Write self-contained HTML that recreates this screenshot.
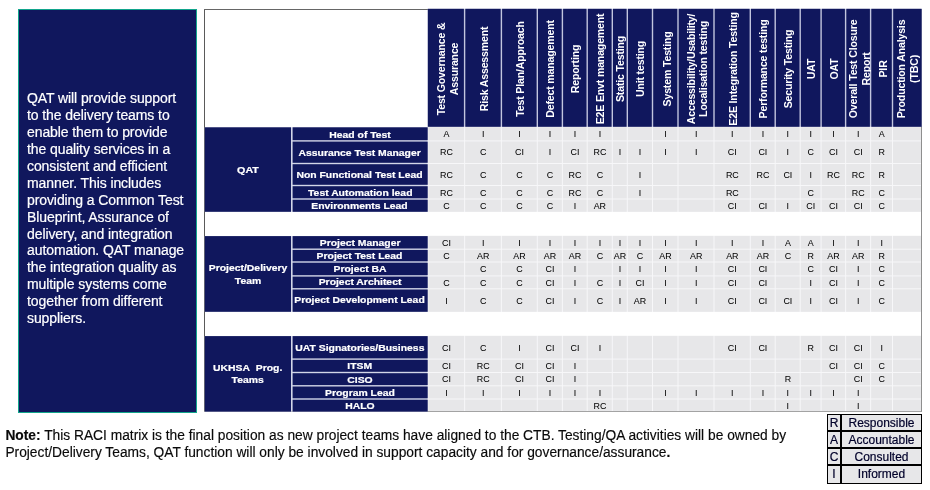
<!DOCTYPE html>
<html><head><meta charset="utf-8"><title>RACI matrix</title>
<style>
html,body{margin:0;padding:0;background:#fff;}
body{width:930px;height:490px;position:relative;overflow:hidden;font-family:"Liberation Sans",sans-serif;}
#bg{position:absolute;left:0;top:0;}
#left{position:absolute;left:18px;top:9px;width:177px;height:402px;background:#10175d;border:1px solid #12a58c;color:#fff;font-size:14px;line-height:16.94px;}
#left p{margin:0;position:absolute;left:8px;top:80px;width:168px;letter-spacing:-0.09px;-webkit-text-stroke:0.2px #fff}
.hc,.gc,.rc,.dc{position:absolute;box-sizing:border-box;overflow:hidden;}
.hc{color:#fff;font-weight:bold;font-size:10.6px;letter-spacing:-0.18px;line-height:12.5px;}
.rot{position:absolute;left:1px;transform-origin:0 0;transform:rotate(-90deg);display:flex;align-items:center;justify-content:center;text-align:center;white-space:nowrap;}
.gc,.rc{color:#fff;font-weight:bold;font-size:10px;letter-spacing:0;line-height:13px;display:flex;align-items:center;justify-content:center;text-align:center;white-space:nowrap;}
.gc{line-height:12.8px;font-size:9.8px}
.gc span{position:relative;top:0.6px;display:inline-block;transform:scaleX(1.06);-webkit-text-stroke:0.22px #fff}
.g0{font-size:9.8px}
.g0 span{transform:scaleX(1.09);top:1px}
.rc span{position:relative;top:-0.6px;display:inline-block;transform:scaleX(1.06);font-size:9.8px;-webkit-text-stroke:0.22px #fff}
.r0 span{top:0.4px}
.r2 span{top:0.1px}
.dc{color:#000;font-size:8.9px;display:flex;align-items:center;justify-content:center;white-space:nowrap;-webkit-text-stroke:0.04px #000;padding-left:0.3px;padding-top:0.5px}
#note{position:absolute;left:5.4px;top:427.8px;-webkit-text-stroke:0.15px #0a0a0a;width:800px;font-size:13.78px;line-height:16.8px;color:#0a0a0a;margin:0;white-space:nowrap;}
#legend{position:absolute;left:827px;top:414px;width:95px;height:70px;background:#000;}
#legend div{position:absolute;background:#e7e7e9;color:#00002a;font-size:12px;line-height:16.4px;-webkit-text-stroke:0.2px #00002a;text-align:center;white-space:nowrap;}
</style></head><body>
<svg id="bg" width="930" height="490" viewBox="0 0 930 490">
<rect x="204.00" y="9.00" width="1.00" height="403.00" fill="#5a5a5a"/>
<rect x="204.00" y="9.00" width="718.00" height="1.00" fill="#666"/>
<rect x="921.00" y="9.00" width="1.00" height="403.00" fill="#8e8e8e"/>
<rect x="204.00" y="411.00" width="718.00" height="1.00" fill="#999"/>
<rect x="427.80" y="8.80" width="493.80" height="118.10" fill="#c2c5de"/>
<rect x="427.80" y="8.80" width="36.10" height="118.10" fill="#10175d"/>
<rect x="465.30" y="8.80" width="35.40" height="118.10" fill="#10175d"/>
<rect x="502.10" y="8.80" width="34.50" height="118.10" fill="#10175d"/>
<rect x="538.00" y="8.80" width="23.70" height="118.10" fill="#10175d"/>
<rect x="563.10" y="8.80" width="23.40" height="118.10" fill="#10175d"/>
<rect x="587.90" y="8.80" width="23.70" height="118.10" fill="#10175d"/>
<rect x="613.00" y="8.80" width="13.60" height="118.10" fill="#10175d"/>
<rect x="628.00" y="8.80" width="23.80" height="118.10" fill="#10175d"/>
<rect x="653.20" y="8.80" width="24.10" height="118.10" fill="#10175d"/>
<rect x="678.70" y="8.80" width="34.60" height="118.10" fill="#10175d"/>
<rect x="714.70" y="8.80" width="34.90" height="118.10" fill="#10175d"/>
<rect x="751.00" y="8.80" width="23.50" height="118.10" fill="#10175d"/>
<rect x="775.90" y="8.80" width="23.60" height="118.10" fill="#10175d"/>
<rect x="800.90" y="8.80" width="19.50" height="118.10" fill="#10175d"/>
<rect x="821.80" y="8.80" width="23.10" height="118.10" fill="#10175d"/>
<rect x="846.30" y="8.80" width="23.60" height="118.10" fill="#10175d"/>
<rect x="871.30" y="8.80" width="20.50" height="118.10" fill="#10175d"/>
<rect x="893.20" y="8.80" width="28.40" height="118.10" fill="#10175d"/>
<rect x="204.80" y="127.30" width="222.90" height="84.50" fill="#d2d5e8"/>
<rect x="427.70" y="126.90" width="493.30" height="84.90" fill="#f7f7f9"/>
<rect x="204.80" y="127.30" width="86.20" height="84.50" fill="#10175d"/>
<rect x="292.60" y="127.30" width="135.10" height="12.90" fill="#10175d"/>
<rect x="428.30" y="127.10" width="35.80" height="13.30" fill="#e7e7e9"/>
<rect x="465.10" y="127.10" width="35.80" height="13.30" fill="#e7e7e9"/>
<rect x="501.90" y="127.10" width="34.90" height="13.30" fill="#e7e7e9"/>
<rect x="537.80" y="127.10" width="24.10" height="13.30" fill="#e7e7e9"/>
<rect x="562.90" y="127.10" width="23.80" height="13.30" fill="#e7e7e9"/>
<rect x="587.70" y="127.10" width="24.10" height="13.30" fill="#e7e7e9"/>
<rect x="612.80" y="127.10" width="14.00" height="13.30" fill="#e7e7e9"/>
<rect x="627.80" y="127.10" width="24.20" height="13.30" fill="#e7e7e9"/>
<rect x="653.00" y="127.10" width="24.50" height="13.30" fill="#e7e7e9"/>
<rect x="678.50" y="127.10" width="35.00" height="13.30" fill="#e7e7e9"/>
<rect x="714.50" y="127.10" width="35.30" height="13.30" fill="#e7e7e9"/>
<rect x="750.80" y="127.10" width="23.90" height="13.30" fill="#e7e7e9"/>
<rect x="775.70" y="127.10" width="24.00" height="13.30" fill="#e7e7e9"/>
<rect x="800.70" y="127.10" width="19.90" height="13.30" fill="#e7e7e9"/>
<rect x="821.60" y="127.10" width="23.50" height="13.30" fill="#e7e7e9"/>
<rect x="846.10" y="127.10" width="24.00" height="13.30" fill="#e7e7e9"/>
<rect x="871.10" y="127.10" width="20.90" height="13.30" fill="#e7e7e9"/>
<rect x="893.00" y="127.10" width="28.00" height="13.30" fill="#e7e7e9"/>
<rect x="292.60" y="141.60" width="135.10" height="21.20" fill="#10175d"/>
<rect x="428.30" y="141.40" width="35.80" height="21.60" fill="#e7e7e9"/>
<rect x="465.10" y="141.40" width="35.80" height="21.60" fill="#e7e7e9"/>
<rect x="501.90" y="141.40" width="34.90" height="21.60" fill="#e7e7e9"/>
<rect x="537.80" y="141.40" width="24.10" height="21.60" fill="#e7e7e9"/>
<rect x="562.90" y="141.40" width="23.80" height="21.60" fill="#e7e7e9"/>
<rect x="587.70" y="141.40" width="24.10" height="21.60" fill="#e7e7e9"/>
<rect x="612.80" y="141.40" width="14.00" height="21.60" fill="#e7e7e9"/>
<rect x="627.80" y="141.40" width="24.20" height="21.60" fill="#e7e7e9"/>
<rect x="653.00" y="141.40" width="24.50" height="21.60" fill="#e7e7e9"/>
<rect x="678.50" y="141.40" width="35.00" height="21.60" fill="#e7e7e9"/>
<rect x="714.50" y="141.40" width="35.30" height="21.60" fill="#e7e7e9"/>
<rect x="750.80" y="141.40" width="23.90" height="21.60" fill="#e7e7e9"/>
<rect x="775.70" y="141.40" width="24.00" height="21.60" fill="#e7e7e9"/>
<rect x="800.70" y="141.40" width="19.90" height="21.60" fill="#e7e7e9"/>
<rect x="821.60" y="141.40" width="23.50" height="21.60" fill="#e7e7e9"/>
<rect x="846.10" y="141.40" width="24.00" height="21.60" fill="#e7e7e9"/>
<rect x="871.10" y="141.40" width="20.90" height="21.60" fill="#e7e7e9"/>
<rect x="893.00" y="141.40" width="28.00" height="21.60" fill="#e7e7e9"/>
<rect x="292.60" y="164.20" width="135.10" height="20.60" fill="#10175d"/>
<rect x="428.30" y="164.00" width="35.80" height="21.00" fill="#e7e7e9"/>
<rect x="465.10" y="164.00" width="35.80" height="21.00" fill="#e7e7e9"/>
<rect x="501.90" y="164.00" width="34.90" height="21.00" fill="#e7e7e9"/>
<rect x="537.80" y="164.00" width="24.10" height="21.00" fill="#e7e7e9"/>
<rect x="562.90" y="164.00" width="23.80" height="21.00" fill="#e7e7e9"/>
<rect x="587.70" y="164.00" width="24.10" height="21.00" fill="#e7e7e9"/>
<rect x="612.80" y="164.00" width="14.00" height="21.00" fill="#e7e7e9"/>
<rect x="627.80" y="164.00" width="24.20" height="21.00" fill="#e7e7e9"/>
<rect x="653.00" y="164.00" width="24.50" height="21.00" fill="#e7e7e9"/>
<rect x="678.50" y="164.00" width="35.00" height="21.00" fill="#e7e7e9"/>
<rect x="714.50" y="164.00" width="35.30" height="21.00" fill="#e7e7e9"/>
<rect x="750.80" y="164.00" width="23.90" height="21.00" fill="#e7e7e9"/>
<rect x="775.70" y="164.00" width="24.00" height="21.00" fill="#e7e7e9"/>
<rect x="800.70" y="164.00" width="19.90" height="21.00" fill="#e7e7e9"/>
<rect x="821.60" y="164.00" width="23.50" height="21.00" fill="#e7e7e9"/>
<rect x="846.10" y="164.00" width="24.00" height="21.00" fill="#e7e7e9"/>
<rect x="871.10" y="164.00" width="20.90" height="21.00" fill="#e7e7e9"/>
<rect x="893.00" y="164.00" width="28.00" height="21.00" fill="#e7e7e9"/>
<rect x="292.60" y="186.20" width="135.10" height="12.10" fill="#10175d"/>
<rect x="428.30" y="186.00" width="35.80" height="12.50" fill="#e7e7e9"/>
<rect x="465.10" y="186.00" width="35.80" height="12.50" fill="#e7e7e9"/>
<rect x="501.90" y="186.00" width="34.90" height="12.50" fill="#e7e7e9"/>
<rect x="537.80" y="186.00" width="24.10" height="12.50" fill="#e7e7e9"/>
<rect x="562.90" y="186.00" width="23.80" height="12.50" fill="#e7e7e9"/>
<rect x="587.70" y="186.00" width="24.10" height="12.50" fill="#e7e7e9"/>
<rect x="612.80" y="186.00" width="14.00" height="12.50" fill="#e7e7e9"/>
<rect x="627.80" y="186.00" width="24.20" height="12.50" fill="#e7e7e9"/>
<rect x="653.00" y="186.00" width="24.50" height="12.50" fill="#e7e7e9"/>
<rect x="678.50" y="186.00" width="35.00" height="12.50" fill="#e7e7e9"/>
<rect x="714.50" y="186.00" width="35.30" height="12.50" fill="#e7e7e9"/>
<rect x="750.80" y="186.00" width="23.90" height="12.50" fill="#e7e7e9"/>
<rect x="775.70" y="186.00" width="24.00" height="12.50" fill="#e7e7e9"/>
<rect x="800.70" y="186.00" width="19.90" height="12.50" fill="#e7e7e9"/>
<rect x="821.60" y="186.00" width="23.50" height="12.50" fill="#e7e7e9"/>
<rect x="846.10" y="186.00" width="24.00" height="12.50" fill="#e7e7e9"/>
<rect x="871.10" y="186.00" width="20.90" height="12.50" fill="#e7e7e9"/>
<rect x="893.00" y="186.00" width="28.00" height="12.50" fill="#e7e7e9"/>
<rect x="292.60" y="199.70" width="135.10" height="12.10" fill="#10175d"/>
<rect x="428.30" y="199.50" width="35.80" height="12.30" fill="#e7e7e9"/>
<rect x="465.10" y="199.50" width="35.80" height="12.30" fill="#e7e7e9"/>
<rect x="501.90" y="199.50" width="34.90" height="12.30" fill="#e7e7e9"/>
<rect x="537.80" y="199.50" width="24.10" height="12.30" fill="#e7e7e9"/>
<rect x="562.90" y="199.50" width="23.80" height="12.30" fill="#e7e7e9"/>
<rect x="587.70" y="199.50" width="24.10" height="12.30" fill="#e7e7e9"/>
<rect x="612.80" y="199.50" width="14.00" height="12.30" fill="#e7e7e9"/>
<rect x="627.80" y="199.50" width="24.20" height="12.30" fill="#e7e7e9"/>
<rect x="653.00" y="199.50" width="24.50" height="12.30" fill="#e7e7e9"/>
<rect x="678.50" y="199.50" width="35.00" height="12.30" fill="#e7e7e9"/>
<rect x="714.50" y="199.50" width="35.30" height="12.30" fill="#e7e7e9"/>
<rect x="750.80" y="199.50" width="23.90" height="12.30" fill="#e7e7e9"/>
<rect x="775.70" y="199.50" width="24.00" height="12.30" fill="#e7e7e9"/>
<rect x="800.70" y="199.50" width="19.90" height="12.30" fill="#e7e7e9"/>
<rect x="821.60" y="199.50" width="23.50" height="12.30" fill="#e7e7e9"/>
<rect x="846.10" y="199.50" width="24.00" height="12.30" fill="#e7e7e9"/>
<rect x="871.10" y="199.50" width="20.90" height="12.30" fill="#e7e7e9"/>
<rect x="893.00" y="199.50" width="28.00" height="12.30" fill="#e7e7e9"/>
<rect x="204.80" y="236.10" width="222.90" height="75.70" fill="#d2d5e8"/>
<rect x="427.70" y="235.70" width="493.30" height="76.10" fill="#f7f7f9"/>
<rect x="204.80" y="236.10" width="86.20" height="75.70" fill="#10175d"/>
<rect x="292.60" y="236.10" width="135.10" height="12.40" fill="#10175d"/>
<rect x="428.30" y="235.90" width="35.80" height="12.80" fill="#e7e7e9"/>
<rect x="465.10" y="235.90" width="35.80" height="12.80" fill="#e7e7e9"/>
<rect x="501.90" y="235.90" width="34.90" height="12.80" fill="#e7e7e9"/>
<rect x="537.80" y="235.90" width="24.10" height="12.80" fill="#e7e7e9"/>
<rect x="562.90" y="235.90" width="23.80" height="12.80" fill="#e7e7e9"/>
<rect x="587.70" y="235.90" width="24.10" height="12.80" fill="#e7e7e9"/>
<rect x="612.80" y="235.90" width="14.00" height="12.80" fill="#e7e7e9"/>
<rect x="627.80" y="235.90" width="24.20" height="12.80" fill="#e7e7e9"/>
<rect x="653.00" y="235.90" width="24.50" height="12.80" fill="#e7e7e9"/>
<rect x="678.50" y="235.90" width="35.00" height="12.80" fill="#e7e7e9"/>
<rect x="714.50" y="235.90" width="35.30" height="12.80" fill="#e7e7e9"/>
<rect x="750.80" y="235.90" width="23.90" height="12.80" fill="#e7e7e9"/>
<rect x="775.70" y="235.90" width="24.00" height="12.80" fill="#e7e7e9"/>
<rect x="800.70" y="235.90" width="19.90" height="12.80" fill="#e7e7e9"/>
<rect x="821.60" y="235.90" width="23.50" height="12.80" fill="#e7e7e9"/>
<rect x="846.10" y="235.90" width="24.00" height="12.80" fill="#e7e7e9"/>
<rect x="871.10" y="235.90" width="20.90" height="12.80" fill="#e7e7e9"/>
<rect x="893.00" y="235.90" width="28.00" height="12.80" fill="#e7e7e9"/>
<rect x="292.60" y="249.90" width="135.10" height="11.40" fill="#10175d"/>
<rect x="428.30" y="249.70" width="35.80" height="11.80" fill="#e7e7e9"/>
<rect x="465.10" y="249.70" width="35.80" height="11.80" fill="#e7e7e9"/>
<rect x="501.90" y="249.70" width="34.90" height="11.80" fill="#e7e7e9"/>
<rect x="537.80" y="249.70" width="24.10" height="11.80" fill="#e7e7e9"/>
<rect x="562.90" y="249.70" width="23.80" height="11.80" fill="#e7e7e9"/>
<rect x="587.70" y="249.70" width="24.10" height="11.80" fill="#e7e7e9"/>
<rect x="612.80" y="249.70" width="14.00" height="11.80" fill="#e7e7e9"/>
<rect x="627.80" y="249.70" width="24.20" height="11.80" fill="#e7e7e9"/>
<rect x="653.00" y="249.70" width="24.50" height="11.80" fill="#e7e7e9"/>
<rect x="678.50" y="249.70" width="35.00" height="11.80" fill="#e7e7e9"/>
<rect x="714.50" y="249.70" width="35.30" height="11.80" fill="#e7e7e9"/>
<rect x="750.80" y="249.70" width="23.90" height="11.80" fill="#e7e7e9"/>
<rect x="775.70" y="249.70" width="24.00" height="11.80" fill="#e7e7e9"/>
<rect x="800.70" y="249.70" width="19.90" height="11.80" fill="#e7e7e9"/>
<rect x="821.60" y="249.70" width="23.50" height="11.80" fill="#e7e7e9"/>
<rect x="846.10" y="249.70" width="24.00" height="11.80" fill="#e7e7e9"/>
<rect x="871.10" y="249.70" width="20.90" height="11.80" fill="#e7e7e9"/>
<rect x="893.00" y="249.70" width="28.00" height="11.80" fill="#e7e7e9"/>
<rect x="292.60" y="262.70" width="135.10" height="12.50" fill="#10175d"/>
<rect x="428.30" y="262.50" width="35.80" height="12.90" fill="#e7e7e9"/>
<rect x="465.10" y="262.50" width="35.80" height="12.90" fill="#e7e7e9"/>
<rect x="501.90" y="262.50" width="34.90" height="12.90" fill="#e7e7e9"/>
<rect x="537.80" y="262.50" width="24.10" height="12.90" fill="#e7e7e9"/>
<rect x="562.90" y="262.50" width="23.80" height="12.90" fill="#e7e7e9"/>
<rect x="587.70" y="262.50" width="24.10" height="12.90" fill="#e7e7e9"/>
<rect x="612.80" y="262.50" width="14.00" height="12.90" fill="#e7e7e9"/>
<rect x="627.80" y="262.50" width="24.20" height="12.90" fill="#e7e7e9"/>
<rect x="653.00" y="262.50" width="24.50" height="12.90" fill="#e7e7e9"/>
<rect x="678.50" y="262.50" width="35.00" height="12.90" fill="#e7e7e9"/>
<rect x="714.50" y="262.50" width="35.30" height="12.90" fill="#e7e7e9"/>
<rect x="750.80" y="262.50" width="23.90" height="12.90" fill="#e7e7e9"/>
<rect x="775.70" y="262.50" width="24.00" height="12.90" fill="#e7e7e9"/>
<rect x="800.70" y="262.50" width="19.90" height="12.90" fill="#e7e7e9"/>
<rect x="821.60" y="262.50" width="23.50" height="12.90" fill="#e7e7e9"/>
<rect x="846.10" y="262.50" width="24.00" height="12.90" fill="#e7e7e9"/>
<rect x="871.10" y="262.50" width="20.90" height="12.90" fill="#e7e7e9"/>
<rect x="893.00" y="262.50" width="28.00" height="12.90" fill="#e7e7e9"/>
<rect x="292.60" y="276.60" width="135.10" height="11.50" fill="#10175d"/>
<rect x="428.30" y="276.40" width="35.80" height="11.90" fill="#e7e7e9"/>
<rect x="465.10" y="276.40" width="35.80" height="11.90" fill="#e7e7e9"/>
<rect x="501.90" y="276.40" width="34.90" height="11.90" fill="#e7e7e9"/>
<rect x="537.80" y="276.40" width="24.10" height="11.90" fill="#e7e7e9"/>
<rect x="562.90" y="276.40" width="23.80" height="11.90" fill="#e7e7e9"/>
<rect x="587.70" y="276.40" width="24.10" height="11.90" fill="#e7e7e9"/>
<rect x="612.80" y="276.40" width="14.00" height="11.90" fill="#e7e7e9"/>
<rect x="627.80" y="276.40" width="24.20" height="11.90" fill="#e7e7e9"/>
<rect x="653.00" y="276.40" width="24.50" height="11.90" fill="#e7e7e9"/>
<rect x="678.50" y="276.40" width="35.00" height="11.90" fill="#e7e7e9"/>
<rect x="714.50" y="276.40" width="35.30" height="11.90" fill="#e7e7e9"/>
<rect x="750.80" y="276.40" width="23.90" height="11.90" fill="#e7e7e9"/>
<rect x="775.70" y="276.40" width="24.00" height="11.90" fill="#e7e7e9"/>
<rect x="800.70" y="276.40" width="19.90" height="11.90" fill="#e7e7e9"/>
<rect x="821.60" y="276.40" width="23.50" height="11.90" fill="#e7e7e9"/>
<rect x="846.10" y="276.40" width="24.00" height="11.90" fill="#e7e7e9"/>
<rect x="871.10" y="276.40" width="20.90" height="11.90" fill="#e7e7e9"/>
<rect x="893.00" y="276.40" width="28.00" height="11.90" fill="#e7e7e9"/>
<rect x="292.60" y="289.50" width="135.10" height="22.30" fill="#10175d"/>
<rect x="428.30" y="289.30" width="35.80" height="22.50" fill="#e7e7e9"/>
<rect x="465.10" y="289.30" width="35.80" height="22.50" fill="#e7e7e9"/>
<rect x="501.90" y="289.30" width="34.90" height="22.50" fill="#e7e7e9"/>
<rect x="537.80" y="289.30" width="24.10" height="22.50" fill="#e7e7e9"/>
<rect x="562.90" y="289.30" width="23.80" height="22.50" fill="#e7e7e9"/>
<rect x="587.70" y="289.30" width="24.10" height="22.50" fill="#e7e7e9"/>
<rect x="612.80" y="289.30" width="14.00" height="22.50" fill="#e7e7e9"/>
<rect x="627.80" y="289.30" width="24.20" height="22.50" fill="#e7e7e9"/>
<rect x="653.00" y="289.30" width="24.50" height="22.50" fill="#e7e7e9"/>
<rect x="678.50" y="289.30" width="35.00" height="22.50" fill="#e7e7e9"/>
<rect x="714.50" y="289.30" width="35.30" height="22.50" fill="#e7e7e9"/>
<rect x="750.80" y="289.30" width="23.90" height="22.50" fill="#e7e7e9"/>
<rect x="775.70" y="289.30" width="24.00" height="22.50" fill="#e7e7e9"/>
<rect x="800.70" y="289.30" width="19.90" height="22.50" fill="#e7e7e9"/>
<rect x="821.60" y="289.30" width="23.50" height="22.50" fill="#e7e7e9"/>
<rect x="846.10" y="289.30" width="24.00" height="22.50" fill="#e7e7e9"/>
<rect x="871.10" y="289.30" width="20.90" height="22.50" fill="#e7e7e9"/>
<rect x="893.00" y="289.30" width="28.00" height="22.50" fill="#e7e7e9"/>
<rect x="204.80" y="336.10" width="222.90" height="75.50" fill="#d2d5e8"/>
<rect x="427.70" y="335.70" width="493.30" height="75.40" fill="#f7f7f9"/>
<rect x="204.80" y="336.10" width="86.20" height="75.50" fill="#10175d"/>
<rect x="292.60" y="336.10" width="135.10" height="22.30" fill="#10175d"/>
<rect x="428.30" y="335.90" width="35.80" height="22.70" fill="#e7e7e9"/>
<rect x="465.10" y="335.90" width="35.80" height="22.70" fill="#e7e7e9"/>
<rect x="501.90" y="335.90" width="34.90" height="22.70" fill="#e7e7e9"/>
<rect x="537.80" y="335.90" width="24.10" height="22.70" fill="#e7e7e9"/>
<rect x="562.90" y="335.90" width="23.80" height="22.70" fill="#e7e7e9"/>
<rect x="587.70" y="335.90" width="24.10" height="22.70" fill="#e7e7e9"/>
<rect x="612.80" y="335.90" width="14.00" height="22.70" fill="#e7e7e9"/>
<rect x="627.80" y="335.90" width="24.20" height="22.70" fill="#e7e7e9"/>
<rect x="653.00" y="335.90" width="24.50" height="22.70" fill="#e7e7e9"/>
<rect x="678.50" y="335.90" width="35.00" height="22.70" fill="#e7e7e9"/>
<rect x="714.50" y="335.90" width="35.30" height="22.70" fill="#e7e7e9"/>
<rect x="750.80" y="335.90" width="23.90" height="22.70" fill="#e7e7e9"/>
<rect x="775.70" y="335.90" width="24.00" height="22.70" fill="#e7e7e9"/>
<rect x="800.70" y="335.90" width="19.90" height="22.70" fill="#e7e7e9"/>
<rect x="821.60" y="335.90" width="23.50" height="22.70" fill="#e7e7e9"/>
<rect x="846.10" y="335.90" width="24.00" height="22.70" fill="#e7e7e9"/>
<rect x="871.10" y="335.90" width="20.90" height="22.70" fill="#e7e7e9"/>
<rect x="893.00" y="335.90" width="28.00" height="22.70" fill="#e7e7e9"/>
<rect x="292.60" y="359.80" width="135.10" height="12.00" fill="#10175d"/>
<rect x="428.30" y="359.60" width="35.80" height="12.40" fill="#e7e7e9"/>
<rect x="465.10" y="359.60" width="35.80" height="12.40" fill="#e7e7e9"/>
<rect x="501.90" y="359.60" width="34.90" height="12.40" fill="#e7e7e9"/>
<rect x="537.80" y="359.60" width="24.10" height="12.40" fill="#e7e7e9"/>
<rect x="562.90" y="359.60" width="23.80" height="12.40" fill="#e7e7e9"/>
<rect x="587.70" y="359.60" width="24.10" height="12.40" fill="#e7e7e9"/>
<rect x="612.80" y="359.60" width="14.00" height="12.40" fill="#e7e7e9"/>
<rect x="627.80" y="359.60" width="24.20" height="12.40" fill="#e7e7e9"/>
<rect x="653.00" y="359.60" width="24.50" height="12.40" fill="#e7e7e9"/>
<rect x="678.50" y="359.60" width="35.00" height="12.40" fill="#e7e7e9"/>
<rect x="714.50" y="359.60" width="35.30" height="12.40" fill="#e7e7e9"/>
<rect x="750.80" y="359.60" width="23.90" height="12.40" fill="#e7e7e9"/>
<rect x="775.70" y="359.60" width="24.00" height="12.40" fill="#e7e7e9"/>
<rect x="800.70" y="359.60" width="19.90" height="12.40" fill="#e7e7e9"/>
<rect x="821.60" y="359.60" width="23.50" height="12.40" fill="#e7e7e9"/>
<rect x="846.10" y="359.60" width="24.00" height="12.40" fill="#e7e7e9"/>
<rect x="871.10" y="359.60" width="20.90" height="12.40" fill="#e7e7e9"/>
<rect x="893.00" y="359.60" width="28.00" height="12.40" fill="#e7e7e9"/>
<rect x="292.60" y="373.20" width="135.10" height="11.90" fill="#10175d"/>
<rect x="428.30" y="373.00" width="35.80" height="12.30" fill="#e7e7e9"/>
<rect x="465.10" y="373.00" width="35.80" height="12.30" fill="#e7e7e9"/>
<rect x="501.90" y="373.00" width="34.90" height="12.30" fill="#e7e7e9"/>
<rect x="537.80" y="373.00" width="24.10" height="12.30" fill="#e7e7e9"/>
<rect x="562.90" y="373.00" width="23.80" height="12.30" fill="#e7e7e9"/>
<rect x="587.70" y="373.00" width="24.10" height="12.30" fill="#e7e7e9"/>
<rect x="612.80" y="373.00" width="14.00" height="12.30" fill="#e7e7e9"/>
<rect x="627.80" y="373.00" width="24.20" height="12.30" fill="#e7e7e9"/>
<rect x="653.00" y="373.00" width="24.50" height="12.30" fill="#e7e7e9"/>
<rect x="678.50" y="373.00" width="35.00" height="12.30" fill="#e7e7e9"/>
<rect x="714.50" y="373.00" width="35.30" height="12.30" fill="#e7e7e9"/>
<rect x="750.80" y="373.00" width="23.90" height="12.30" fill="#e7e7e9"/>
<rect x="775.70" y="373.00" width="24.00" height="12.30" fill="#e7e7e9"/>
<rect x="800.70" y="373.00" width="19.90" height="12.30" fill="#e7e7e9"/>
<rect x="821.60" y="373.00" width="23.50" height="12.30" fill="#e7e7e9"/>
<rect x="846.10" y="373.00" width="24.00" height="12.30" fill="#e7e7e9"/>
<rect x="871.10" y="373.00" width="20.90" height="12.30" fill="#e7e7e9"/>
<rect x="893.00" y="373.00" width="28.00" height="12.30" fill="#e7e7e9"/>
<rect x="292.60" y="386.50" width="135.10" height="11.80" fill="#10175d"/>
<rect x="428.30" y="386.30" width="35.80" height="12.20" fill="#e7e7e9"/>
<rect x="465.10" y="386.30" width="35.80" height="12.20" fill="#e7e7e9"/>
<rect x="501.90" y="386.30" width="34.90" height="12.20" fill="#e7e7e9"/>
<rect x="537.80" y="386.30" width="24.10" height="12.20" fill="#e7e7e9"/>
<rect x="562.90" y="386.30" width="23.80" height="12.20" fill="#e7e7e9"/>
<rect x="587.70" y="386.30" width="24.10" height="12.20" fill="#e7e7e9"/>
<rect x="612.80" y="386.30" width="14.00" height="12.20" fill="#e7e7e9"/>
<rect x="627.80" y="386.30" width="24.20" height="12.20" fill="#e7e7e9"/>
<rect x="653.00" y="386.30" width="24.50" height="12.20" fill="#e7e7e9"/>
<rect x="678.50" y="386.30" width="35.00" height="12.20" fill="#e7e7e9"/>
<rect x="714.50" y="386.30" width="35.30" height="12.20" fill="#e7e7e9"/>
<rect x="750.80" y="386.30" width="23.90" height="12.20" fill="#e7e7e9"/>
<rect x="775.70" y="386.30" width="24.00" height="12.20" fill="#e7e7e9"/>
<rect x="800.70" y="386.30" width="19.90" height="12.20" fill="#e7e7e9"/>
<rect x="821.60" y="386.30" width="23.50" height="12.20" fill="#e7e7e9"/>
<rect x="846.10" y="386.30" width="24.00" height="12.20" fill="#e7e7e9"/>
<rect x="871.10" y="386.30" width="20.90" height="12.20" fill="#e7e7e9"/>
<rect x="893.00" y="386.30" width="28.00" height="12.20" fill="#e7e7e9"/>
<rect x="292.60" y="399.70" width="135.10" height="11.90" fill="#10175d"/>
<rect x="428.30" y="399.50" width="35.80" height="11.50" fill="#e7e7e9"/>
<rect x="465.10" y="399.50" width="35.80" height="11.50" fill="#e7e7e9"/>
<rect x="501.90" y="399.50" width="34.90" height="11.50" fill="#e7e7e9"/>
<rect x="537.80" y="399.50" width="24.10" height="11.50" fill="#e7e7e9"/>
<rect x="562.90" y="399.50" width="23.80" height="11.50" fill="#e7e7e9"/>
<rect x="587.70" y="399.50" width="24.10" height="11.50" fill="#e7e7e9"/>
<rect x="612.80" y="399.50" width="14.00" height="11.50" fill="#e7e7e9"/>
<rect x="627.80" y="399.50" width="24.20" height="11.50" fill="#e7e7e9"/>
<rect x="653.00" y="399.50" width="24.50" height="11.50" fill="#e7e7e9"/>
<rect x="678.50" y="399.50" width="35.00" height="11.50" fill="#e7e7e9"/>
<rect x="714.50" y="399.50" width="35.30" height="11.50" fill="#e7e7e9"/>
<rect x="750.80" y="399.50" width="23.90" height="11.50" fill="#e7e7e9"/>
<rect x="775.70" y="399.50" width="24.00" height="11.50" fill="#e7e7e9"/>
<rect x="800.70" y="399.50" width="19.90" height="11.50" fill="#e7e7e9"/>
<rect x="821.60" y="399.50" width="23.50" height="11.50" fill="#e7e7e9"/>
<rect x="846.10" y="399.50" width="24.00" height="11.50" fill="#e7e7e9"/>
<rect x="871.10" y="399.50" width="20.90" height="11.50" fill="#e7e7e9"/>
<rect x="893.00" y="399.50" width="28.00" height="11.50" fill="#e7e7e9"/>
</svg>
<div id="left"><p>QAT will provide support<br>to the delivery teams to<br>enable them to provide<br>the quality services in a<br>consistent and efficient<br>manner. This includes<br>providing a Common Test<br>Blueprint, Assurance of<br>delivery, and integration<br>automation. QAT manage<br>the integration quality as<br>multiple systems come<br>together from different<br>suppliers.</p></div>
<div class="hc" style="left:428.00px;top:8.8px;width:36.60px;height:118.10px"><div class="rot" style="width:118.10px;height:36.60px;top:119.10px;line-height:13.7px;left:1.6px;"><span>Test Governance &amp;<br>Assurance</span></div></div>
<div class="hc" style="left:464.60px;top:8.8px;width:36.80px;height:118.10px"><div class="rot" style="width:118.10px;height:36.80px;top:119.10px;"><span>Risk Assessment</span></div></div>
<div class="hc" style="left:501.40px;top:8.8px;width:35.90px;height:118.10px"><div class="rot" style="width:118.10px;height:35.90px;top:119.10px;"><span>Test Plan/Approach</span></div></div>
<div class="hc" style="left:537.30px;top:8.8px;width:25.10px;height:118.10px"><div class="rot" style="width:118.10px;height:25.10px;top:119.10px;"><span>Defect management</span></div></div>
<div class="hc" style="left:562.40px;top:8.8px;width:24.80px;height:118.10px"><div class="rot" style="width:118.10px;height:24.80px;top:119.10px;"><span>Reporting</span></div></div>
<div class="hc" style="left:587.20px;top:8.8px;width:25.10px;height:118.10px"><div class="rot" style="width:118.10px;height:25.10px;top:119.10px;"><span>E2E Envt management</span></div></div>
<div class="hc" style="left:612.30px;top:8.8px;width:15.00px;height:118.10px"><div class="rot" style="width:118.10px;height:15.00px;top:119.10px;"><span>Static Testing</span></div></div>
<div class="hc" style="left:627.30px;top:8.8px;width:25.20px;height:118.10px"><div class="rot" style="width:118.10px;height:25.20px;top:119.10px;"><span>Unit testing</span></div></div>
<div class="hc" style="left:652.50px;top:8.8px;width:25.50px;height:118.10px"><div class="rot" style="width:118.10px;height:25.50px;top:119.10px;"><span>System Testing</span></div></div>
<div class="hc" style="left:678.00px;top:8.8px;width:36.00px;height:118.10px"><div class="rot" style="width:118.10px;height:36.00px;top:119.10px;"><span>Accessibility/Usability/<br>Localisation testing</span></div></div>
<div class="hc" style="left:714.00px;top:8.8px;width:36.30px;height:118.10px"><div class="rot" style="width:118.10px;height:36.30px;top:119.10px;"><span>E2E Integration Testing</span></div></div>
<div class="hc" style="left:750.30px;top:8.8px;width:24.90px;height:118.10px"><div class="rot" style="width:118.10px;height:24.90px;top:119.10px;"><span>Performance testing</span></div></div>
<div class="hc" style="left:775.20px;top:8.8px;width:25.00px;height:118.10px"><div class="rot" style="width:118.10px;height:25.00px;top:119.10px;"><span>Security Testing</span></div></div>
<div class="hc" style="left:800.20px;top:8.8px;width:20.90px;height:118.10px"><div class="rot" style="width:118.10px;height:20.90px;top:119.10px;"><span>UAT</span></div></div>
<div class="hc" style="left:821.10px;top:8.8px;width:24.50px;height:118.10px"><div class="rot" style="width:118.10px;height:24.50px;top:119.10px;"><span>OAT</span></div></div>
<div class="hc" style="left:845.60px;top:8.8px;width:25.00px;height:118.10px"><div class="rot" style="width:118.10px;height:25.00px;top:119.10px;"><span>Overall Test Closure<br>Report</span></div></div>
<div class="hc" style="left:870.60px;top:8.8px;width:21.90px;height:118.10px"><div class="rot" style="width:118.10px;height:21.90px;top:119.10px;"><span>PIR</span></div></div>
<div class="hc" style="left:892.50px;top:8.8px;width:29.10px;height:118.10px"><div class="rot" style="width:118.10px;height:29.10px;top:119.10px;left:0.4px;"><span>Production Analysis<br>(TBC)</span></div></div>
<div class="gc g0" style="left:204.00px;top:127.30px;width:87.80px;height:84.50px;"><span>QAT</span></div>
<div class="rc r0" style="left:291.80px;top:127.30px;width:136.20px;height:13.60px;"><span>Head of Test</span></div>
<div class="dc" style="left:428.00px;top:127.30px;width:36.60px;height:13.60px;"><span>A</span></div>
<div class="dc" style="left:464.60px;top:127.30px;width:36.80px;height:13.60px;"><span>I</span></div>
<div class="dc" style="left:501.40px;top:127.30px;width:35.90px;height:13.60px;"><span>I</span></div>
<div class="dc" style="left:537.30px;top:127.30px;width:25.10px;height:13.60px;"><span>I</span></div>
<div class="dc" style="left:562.40px;top:127.30px;width:24.80px;height:13.60px;"><span>I</span></div>
<div class="dc" style="left:587.20px;top:127.30px;width:25.10px;height:13.60px;"><span>I</span></div>
<div class="dc" style="left:652.50px;top:127.30px;width:25.50px;height:13.60px;"><span>I</span></div>
<div class="dc" style="left:678.00px;top:127.30px;width:36.00px;height:13.60px;"><span>I</span></div>
<div class="dc" style="left:714.00px;top:127.30px;width:36.30px;height:13.60px;"><span>I</span></div>
<div class="dc" style="left:750.30px;top:127.30px;width:24.90px;height:13.60px;"><span>I</span></div>
<div class="dc" style="left:775.20px;top:127.30px;width:25.00px;height:13.60px;"><span>I</span></div>
<div class="dc" style="left:800.20px;top:127.30px;width:20.90px;height:13.60px;"><span>I</span></div>
<div class="dc" style="left:821.10px;top:127.30px;width:24.50px;height:13.60px;"><span>I</span></div>
<div class="dc" style="left:845.60px;top:127.30px;width:25.00px;height:13.60px;"><span>I</span></div>
<div class="dc" style="left:870.60px;top:127.30px;width:21.90px;height:13.60px;"><span>A</span></div>
<div class="rc r0" style="left:291.80px;top:140.90px;width:136.20px;height:22.60px;"><span>Assurance Test Manager</span></div>
<div class="dc" style="left:428.00px;top:140.90px;width:36.60px;height:22.60px;"><span>RC</span></div>
<div class="dc" style="left:464.60px;top:140.90px;width:36.80px;height:22.60px;"><span>C</span></div>
<div class="dc" style="left:501.40px;top:140.90px;width:35.90px;height:22.60px;"><span>CI</span></div>
<div class="dc" style="left:537.30px;top:140.90px;width:25.10px;height:22.60px;"><span>I</span></div>
<div class="dc" style="left:562.40px;top:140.90px;width:24.80px;height:22.60px;"><span>CI</span></div>
<div class="dc" style="left:587.20px;top:140.90px;width:25.10px;height:22.60px;"><span>RC</span></div>
<div class="dc" style="left:612.30px;top:140.90px;width:15.00px;height:22.60px;"><span>I</span></div>
<div class="dc" style="left:627.30px;top:140.90px;width:25.20px;height:22.60px;"><span>I</span></div>
<div class="dc" style="left:652.50px;top:140.90px;width:25.50px;height:22.60px;"><span>I</span></div>
<div class="dc" style="left:678.00px;top:140.90px;width:36.00px;height:22.60px;"><span>I</span></div>
<div class="dc" style="left:714.00px;top:140.90px;width:36.30px;height:22.60px;"><span>CI</span></div>
<div class="dc" style="left:750.30px;top:140.90px;width:24.90px;height:22.60px;"><span>CI</span></div>
<div class="dc" style="left:775.20px;top:140.90px;width:25.00px;height:22.60px;"><span>I</span></div>
<div class="dc" style="left:800.20px;top:140.90px;width:20.90px;height:22.60px;"><span>C</span></div>
<div class="dc" style="left:821.10px;top:140.90px;width:24.50px;height:22.60px;"><span>CI</span></div>
<div class="dc" style="left:845.60px;top:140.90px;width:25.00px;height:22.60px;"><span>CI</span></div>
<div class="dc" style="left:870.60px;top:140.90px;width:21.90px;height:22.60px;"><span>R</span></div>
<div class="rc r0" style="left:291.80px;top:163.50px;width:136.20px;height:22.00px;"><span>Non Functional Test Lead</span></div>
<div class="dc" style="left:428.00px;top:163.50px;width:36.60px;height:22.00px;"><span>RC</span></div>
<div class="dc" style="left:464.60px;top:163.50px;width:36.80px;height:22.00px;"><span>C</span></div>
<div class="dc" style="left:501.40px;top:163.50px;width:35.90px;height:22.00px;"><span>C</span></div>
<div class="dc" style="left:537.30px;top:163.50px;width:25.10px;height:22.00px;"><span>C</span></div>
<div class="dc" style="left:562.40px;top:163.50px;width:24.80px;height:22.00px;"><span>RC</span></div>
<div class="dc" style="left:587.20px;top:163.50px;width:25.10px;height:22.00px;"><span>C</span></div>
<div class="dc" style="left:627.30px;top:163.50px;width:25.20px;height:22.00px;"><span>I</span></div>
<div class="dc" style="left:714.00px;top:163.50px;width:36.30px;height:22.00px;"><span>RC</span></div>
<div class="dc" style="left:750.30px;top:163.50px;width:24.90px;height:22.00px;"><span>RC</span></div>
<div class="dc" style="left:775.20px;top:163.50px;width:25.00px;height:22.00px;"><span>CI</span></div>
<div class="dc" style="left:800.20px;top:163.50px;width:20.90px;height:22.00px;"><span>I</span></div>
<div class="dc" style="left:821.10px;top:163.50px;width:24.50px;height:22.00px;"><span>RC</span></div>
<div class="dc" style="left:845.60px;top:163.50px;width:25.00px;height:22.00px;"><span>RC</span></div>
<div class="dc" style="left:870.60px;top:163.50px;width:21.90px;height:22.00px;"><span>R</span></div>
<div class="rc r0" style="left:291.80px;top:185.50px;width:136.20px;height:13.50px;"><span>Test Automation lead</span></div>
<div class="dc" style="left:428.00px;top:185.50px;width:36.60px;height:13.50px;"><span>RC</span></div>
<div class="dc" style="left:464.60px;top:185.50px;width:36.80px;height:13.50px;"><span>C</span></div>
<div class="dc" style="left:501.40px;top:185.50px;width:35.90px;height:13.50px;"><span>C</span></div>
<div class="dc" style="left:537.30px;top:185.50px;width:25.10px;height:13.50px;"><span>C</span></div>
<div class="dc" style="left:562.40px;top:185.50px;width:24.80px;height:13.50px;"><span>RC</span></div>
<div class="dc" style="left:587.20px;top:185.50px;width:25.10px;height:13.50px;"><span>C</span></div>
<div class="dc" style="left:627.30px;top:185.50px;width:25.20px;height:13.50px;"><span>I</span></div>
<div class="dc" style="left:714.00px;top:185.50px;width:36.30px;height:13.50px;"><span>RC</span></div>
<div class="dc" style="left:800.20px;top:185.50px;width:20.90px;height:13.50px;"><span>C</span></div>
<div class="dc" style="left:845.60px;top:185.50px;width:25.00px;height:13.50px;"><span>RC</span></div>
<div class="dc" style="left:870.60px;top:185.50px;width:21.90px;height:13.50px;"><span>C</span></div>
<div class="rc r0" style="left:291.80px;top:199.00px;width:136.20px;height:12.80px;"><span>Environments Lead</span></div>
<div class="dc" style="left:428.00px;top:199.00px;width:36.60px;height:12.80px;"><span>C</span></div>
<div class="dc" style="left:464.60px;top:199.00px;width:36.80px;height:12.80px;"><span>C</span></div>
<div class="dc" style="left:501.40px;top:199.00px;width:35.90px;height:12.80px;"><span>C</span></div>
<div class="dc" style="left:537.30px;top:199.00px;width:25.10px;height:12.80px;"><span>C</span></div>
<div class="dc" style="left:562.40px;top:199.00px;width:24.80px;height:12.80px;"><span>I</span></div>
<div class="dc" style="left:587.20px;top:199.00px;width:25.10px;height:12.80px;"><span>AR</span></div>
<div class="dc" style="left:714.00px;top:199.00px;width:36.30px;height:12.80px;"><span>CI</span></div>
<div class="dc" style="left:750.30px;top:199.00px;width:24.90px;height:12.80px;"><span>CI</span></div>
<div class="dc" style="left:775.20px;top:199.00px;width:25.00px;height:12.80px;"><span>I</span></div>
<div class="dc" style="left:800.20px;top:199.00px;width:20.90px;height:12.80px;"><span>CI</span></div>
<div class="dc" style="left:821.10px;top:199.00px;width:24.50px;height:12.80px;"><span>CI</span></div>
<div class="dc" style="left:845.60px;top:199.00px;width:25.00px;height:12.80px;"><span>CI</span></div>
<div class="dc" style="left:870.60px;top:199.00px;width:21.90px;height:12.80px;"><span>C</span></div>
<div class="gc g1" style="left:204.00px;top:236.10px;width:87.80px;height:75.70px;"><span>Project/Delivery<br>Team</span></div>
<div class="rc r1" style="left:291.80px;top:236.10px;width:136.20px;height:13.10px;"><span>Project Manager</span></div>
<div class="dc" style="left:428.00px;top:236.10px;width:36.60px;height:13.10px;"><span>CI</span></div>
<div class="dc" style="left:464.60px;top:236.10px;width:36.80px;height:13.10px;"><span>I</span></div>
<div class="dc" style="left:501.40px;top:236.10px;width:35.90px;height:13.10px;"><span>I</span></div>
<div class="dc" style="left:537.30px;top:236.10px;width:25.10px;height:13.10px;"><span>I</span></div>
<div class="dc" style="left:562.40px;top:236.10px;width:24.80px;height:13.10px;"><span>I</span></div>
<div class="dc" style="left:587.20px;top:236.10px;width:25.10px;height:13.10px;"><span>I</span></div>
<div class="dc" style="left:612.30px;top:236.10px;width:15.00px;height:13.10px;"><span>I</span></div>
<div class="dc" style="left:627.30px;top:236.10px;width:25.20px;height:13.10px;"><span>I</span></div>
<div class="dc" style="left:652.50px;top:236.10px;width:25.50px;height:13.10px;"><span>I</span></div>
<div class="dc" style="left:678.00px;top:236.10px;width:36.00px;height:13.10px;"><span>I</span></div>
<div class="dc" style="left:714.00px;top:236.10px;width:36.30px;height:13.10px;"><span>I</span></div>
<div class="dc" style="left:750.30px;top:236.10px;width:24.90px;height:13.10px;"><span>I</span></div>
<div class="dc" style="left:775.20px;top:236.10px;width:25.00px;height:13.10px;"><span>A</span></div>
<div class="dc" style="left:800.20px;top:236.10px;width:20.90px;height:13.10px;"><span>A</span></div>
<div class="dc" style="left:821.10px;top:236.10px;width:24.50px;height:13.10px;"><span>I</span></div>
<div class="dc" style="left:845.60px;top:236.10px;width:25.00px;height:13.10px;"><span>I</span></div>
<div class="dc" style="left:870.60px;top:236.10px;width:21.90px;height:13.10px;"><span>I</span></div>
<div class="rc r1" style="left:291.80px;top:249.20px;width:136.20px;height:12.80px;"><span>Project Test Lead</span></div>
<div class="dc" style="left:428.00px;top:249.20px;width:36.60px;height:12.80px;"><span>C</span></div>
<div class="dc" style="left:464.60px;top:249.20px;width:36.80px;height:12.80px;"><span>AR</span></div>
<div class="dc" style="left:501.40px;top:249.20px;width:35.90px;height:12.80px;"><span>AR</span></div>
<div class="dc" style="left:537.30px;top:249.20px;width:25.10px;height:12.80px;"><span>AR</span></div>
<div class="dc" style="left:562.40px;top:249.20px;width:24.80px;height:12.80px;"><span>AR</span></div>
<div class="dc" style="left:587.20px;top:249.20px;width:25.10px;height:12.80px;"><span>C</span></div>
<div class="dc" style="left:612.30px;top:249.20px;width:15.00px;height:12.80px;"><span>AR</span></div>
<div class="dc" style="left:627.30px;top:249.20px;width:25.20px;height:12.80px;"><span>C</span></div>
<div class="dc" style="left:652.50px;top:249.20px;width:25.50px;height:12.80px;"><span>AR</span></div>
<div class="dc" style="left:678.00px;top:249.20px;width:36.00px;height:12.80px;"><span>AR</span></div>
<div class="dc" style="left:714.00px;top:249.20px;width:36.30px;height:12.80px;"><span>AR</span></div>
<div class="dc" style="left:750.30px;top:249.20px;width:24.90px;height:12.80px;"><span>AR</span></div>
<div class="dc" style="left:775.20px;top:249.20px;width:25.00px;height:12.80px;"><span>C</span></div>
<div class="dc" style="left:800.20px;top:249.20px;width:20.90px;height:12.80px;"><span>R</span></div>
<div class="dc" style="left:821.10px;top:249.20px;width:24.50px;height:12.80px;"><span>AR</span></div>
<div class="dc" style="left:845.60px;top:249.20px;width:25.00px;height:12.80px;"><span>AR</span></div>
<div class="dc" style="left:870.60px;top:249.20px;width:21.90px;height:12.80px;"><span>R</span></div>
<div class="rc r1" style="left:291.80px;top:262.00px;width:136.20px;height:13.90px;"><span>Project BA</span></div>
<div class="dc" style="left:464.60px;top:262.00px;width:36.80px;height:13.90px;"><span>C</span></div>
<div class="dc" style="left:501.40px;top:262.00px;width:35.90px;height:13.90px;"><span>C</span></div>
<div class="dc" style="left:537.30px;top:262.00px;width:25.10px;height:13.90px;"><span>CI</span></div>
<div class="dc" style="left:562.40px;top:262.00px;width:24.80px;height:13.90px;"><span>I</span></div>
<div class="dc" style="left:612.30px;top:262.00px;width:15.00px;height:13.90px;"><span>I</span></div>
<div class="dc" style="left:627.30px;top:262.00px;width:25.20px;height:13.90px;"><span>I</span></div>
<div class="dc" style="left:652.50px;top:262.00px;width:25.50px;height:13.90px;"><span>I</span></div>
<div class="dc" style="left:678.00px;top:262.00px;width:36.00px;height:13.90px;"><span>I</span></div>
<div class="dc" style="left:714.00px;top:262.00px;width:36.30px;height:13.90px;"><span>CI</span></div>
<div class="dc" style="left:750.30px;top:262.00px;width:24.90px;height:13.90px;"><span>CI</span></div>
<div class="dc" style="left:800.20px;top:262.00px;width:20.90px;height:13.90px;"><span>C</span></div>
<div class="dc" style="left:821.10px;top:262.00px;width:24.50px;height:13.90px;"><span>CI</span></div>
<div class="dc" style="left:845.60px;top:262.00px;width:25.00px;height:13.90px;"><span>I</span></div>
<div class="dc" style="left:870.60px;top:262.00px;width:21.90px;height:13.90px;"><span>C</span></div>
<div class="rc r1" style="left:291.80px;top:275.90px;width:136.20px;height:12.90px;"><span>Project Architect</span></div>
<div class="dc" style="left:428.00px;top:275.90px;width:36.60px;height:12.90px;"><span>C</span></div>
<div class="dc" style="left:464.60px;top:275.90px;width:36.80px;height:12.90px;"><span>C</span></div>
<div class="dc" style="left:501.40px;top:275.90px;width:35.90px;height:12.90px;"><span>C</span></div>
<div class="dc" style="left:537.30px;top:275.90px;width:25.10px;height:12.90px;"><span>CI</span></div>
<div class="dc" style="left:562.40px;top:275.90px;width:24.80px;height:12.90px;"><span>I</span></div>
<div class="dc" style="left:587.20px;top:275.90px;width:25.10px;height:12.90px;"><span>C</span></div>
<div class="dc" style="left:612.30px;top:275.90px;width:15.00px;height:12.90px;"><span>I</span></div>
<div class="dc" style="left:627.30px;top:275.90px;width:25.20px;height:12.90px;"><span>CI</span></div>
<div class="dc" style="left:652.50px;top:275.90px;width:25.50px;height:12.90px;"><span>I</span></div>
<div class="dc" style="left:678.00px;top:275.90px;width:36.00px;height:12.90px;"><span>I</span></div>
<div class="dc" style="left:714.00px;top:275.90px;width:36.30px;height:12.90px;"><span>CI</span></div>
<div class="dc" style="left:750.30px;top:275.90px;width:24.90px;height:12.90px;"><span>CI</span></div>
<div class="dc" style="left:800.20px;top:275.90px;width:20.90px;height:12.90px;"><span>I</span></div>
<div class="dc" style="left:821.10px;top:275.90px;width:24.50px;height:12.90px;"><span>CI</span></div>
<div class="dc" style="left:845.60px;top:275.90px;width:25.00px;height:12.90px;"><span>I</span></div>
<div class="dc" style="left:870.60px;top:275.90px;width:21.90px;height:12.90px;"><span>C</span></div>
<div class="rc r1" style="left:291.80px;top:288.80px;width:136.20px;height:23.00px;"><span>Project Development Lead</span></div>
<div class="dc" style="left:428.00px;top:288.80px;width:36.60px;height:23.00px;"><span>I</span></div>
<div class="dc" style="left:464.60px;top:288.80px;width:36.80px;height:23.00px;"><span>C</span></div>
<div class="dc" style="left:501.40px;top:288.80px;width:35.90px;height:23.00px;"><span>C</span></div>
<div class="dc" style="left:537.30px;top:288.80px;width:25.10px;height:23.00px;"><span>CI</span></div>
<div class="dc" style="left:562.40px;top:288.80px;width:24.80px;height:23.00px;"><span>I</span></div>
<div class="dc" style="left:587.20px;top:288.80px;width:25.10px;height:23.00px;"><span>C</span></div>
<div class="dc" style="left:612.30px;top:288.80px;width:15.00px;height:23.00px;"><span>I</span></div>
<div class="dc" style="left:627.30px;top:288.80px;width:25.20px;height:23.00px;"><span>AR</span></div>
<div class="dc" style="left:652.50px;top:288.80px;width:25.50px;height:23.00px;"><span>I</span></div>
<div class="dc" style="left:678.00px;top:288.80px;width:36.00px;height:23.00px;"><span>I</span></div>
<div class="dc" style="left:714.00px;top:288.80px;width:36.30px;height:23.00px;"><span>CI</span></div>
<div class="dc" style="left:750.30px;top:288.80px;width:24.90px;height:23.00px;"><span>CI</span></div>
<div class="dc" style="left:775.20px;top:288.80px;width:25.00px;height:23.00px;"><span>CI</span></div>
<div class="dc" style="left:800.20px;top:288.80px;width:20.90px;height:23.00px;"><span>I</span></div>
<div class="dc" style="left:821.10px;top:288.80px;width:24.50px;height:23.00px;"><span>CI</span></div>
<div class="dc" style="left:845.60px;top:288.80px;width:25.00px;height:23.00px;"><span>I</span></div>
<div class="dc" style="left:870.60px;top:288.80px;width:21.90px;height:23.00px;"><span>C</span></div>
<div class="gc g2" style="left:204.00px;top:336.10px;width:87.80px;height:75.50px;"><span>UKHSA&nbsp; Prog.<br>Teams</span></div>
<div class="rc r2" style="left:291.80px;top:336.10px;width:136.20px;height:23.00px;"><span>UAT Signatories/Business</span></div>
<div class="dc" style="left:428.00px;top:336.10px;width:36.60px;height:23.00px;"><span>CI</span></div>
<div class="dc" style="left:464.60px;top:336.10px;width:36.80px;height:23.00px;"><span>C</span></div>
<div class="dc" style="left:501.40px;top:336.10px;width:35.90px;height:23.00px;"><span>I</span></div>
<div class="dc" style="left:537.30px;top:336.10px;width:25.10px;height:23.00px;"><span>CI</span></div>
<div class="dc" style="left:562.40px;top:336.10px;width:24.80px;height:23.00px;"><span>CI</span></div>
<div class="dc" style="left:587.20px;top:336.10px;width:25.10px;height:23.00px;"><span>I</span></div>
<div class="dc" style="left:714.00px;top:336.10px;width:36.30px;height:23.00px;"><span>CI</span></div>
<div class="dc" style="left:750.30px;top:336.10px;width:24.90px;height:23.00px;"><span>CI</span></div>
<div class="dc" style="left:800.20px;top:336.10px;width:20.90px;height:23.00px;"><span>R</span></div>
<div class="dc" style="left:821.10px;top:336.10px;width:24.50px;height:23.00px;"><span>CI</span></div>
<div class="dc" style="left:845.60px;top:336.10px;width:25.00px;height:23.00px;"><span>CI</span></div>
<div class="dc" style="left:870.60px;top:336.10px;width:21.90px;height:23.00px;"><span>I</span></div>
<div class="rc r2" style="left:291.80px;top:359.10px;width:136.20px;height:13.40px;"><span>ITSM</span></div>
<div class="dc" style="left:428.00px;top:359.10px;width:36.60px;height:13.40px;"><span>CI</span></div>
<div class="dc" style="left:464.60px;top:359.10px;width:36.80px;height:13.40px;"><span>RC</span></div>
<div class="dc" style="left:501.40px;top:359.10px;width:35.90px;height:13.40px;"><span>CI</span></div>
<div class="dc" style="left:537.30px;top:359.10px;width:25.10px;height:13.40px;"><span>CI</span></div>
<div class="dc" style="left:562.40px;top:359.10px;width:24.80px;height:13.40px;"><span>I</span></div>
<div class="dc" style="left:821.10px;top:359.10px;width:24.50px;height:13.40px;"><span>CI</span></div>
<div class="dc" style="left:845.60px;top:359.10px;width:25.00px;height:13.40px;"><span>CI</span></div>
<div class="dc" style="left:870.60px;top:359.10px;width:21.90px;height:13.40px;"><span>C</span></div>
<div class="rc r2" style="left:291.80px;top:372.50px;width:136.20px;height:13.30px;"><span>CISO</span></div>
<div class="dc" style="left:428.00px;top:372.50px;width:36.60px;height:13.30px;"><span>CI</span></div>
<div class="dc" style="left:464.60px;top:372.50px;width:36.80px;height:13.30px;"><span>RC</span></div>
<div class="dc" style="left:501.40px;top:372.50px;width:35.90px;height:13.30px;"><span>CI</span></div>
<div class="dc" style="left:537.30px;top:372.50px;width:25.10px;height:13.30px;"><span>CI</span></div>
<div class="dc" style="left:562.40px;top:372.50px;width:24.80px;height:13.30px;"><span>I</span></div>
<div class="dc" style="left:775.20px;top:372.50px;width:25.00px;height:13.30px;"><span>R</span></div>
<div class="dc" style="left:845.60px;top:372.50px;width:25.00px;height:13.30px;"><span>CI</span></div>
<div class="dc" style="left:870.60px;top:372.50px;width:21.90px;height:13.30px;"><span>C</span></div>
<div class="rc r2" style="left:291.80px;top:385.80px;width:136.20px;height:13.20px;"><span>Program Lead</span></div>
<div class="dc" style="left:428.00px;top:385.80px;width:36.60px;height:13.20px;"><span>I</span></div>
<div class="dc" style="left:464.60px;top:385.80px;width:36.80px;height:13.20px;"><span>I</span></div>
<div class="dc" style="left:501.40px;top:385.80px;width:35.90px;height:13.20px;"><span>I</span></div>
<div class="dc" style="left:537.30px;top:385.80px;width:25.10px;height:13.20px;"><span>I</span></div>
<div class="dc" style="left:562.40px;top:385.80px;width:24.80px;height:13.20px;"><span>I</span></div>
<div class="dc" style="left:587.20px;top:385.80px;width:25.10px;height:13.20px;"><span>I</span></div>
<div class="dc" style="left:652.50px;top:385.80px;width:25.50px;height:13.20px;"><span>I</span></div>
<div class="dc" style="left:678.00px;top:385.80px;width:36.00px;height:13.20px;"><span>I</span></div>
<div class="dc" style="left:714.00px;top:385.80px;width:36.30px;height:13.20px;"><span>I</span></div>
<div class="dc" style="left:750.30px;top:385.80px;width:24.90px;height:13.20px;"><span>I</span></div>
<div class="dc" style="left:775.20px;top:385.80px;width:25.00px;height:13.20px;"><span>I</span></div>
<div class="dc" style="left:800.20px;top:385.80px;width:20.90px;height:13.20px;"><span>I</span></div>
<div class="dc" style="left:821.10px;top:385.80px;width:24.50px;height:13.20px;"><span>I</span></div>
<div class="dc" style="left:845.60px;top:385.80px;width:25.00px;height:13.20px;"><span>I</span></div>
<div class="rc r2" style="left:291.80px;top:399.00px;width:136.20px;height:12.60px;"><span>HALO</span></div>
<div class="dc" style="left:587.20px;top:399.00px;width:25.10px;height:12.60px;"><span>RC</span></div>
<div class="dc" style="left:775.20px;top:399.00px;width:25.00px;height:12.60px;"><span>I</span></div>
<div class="dc" style="left:845.60px;top:399.00px;width:25.00px;height:12.60px;"><span>I</span></div>
<p id="note"><b>Note:</b> This RACI matrix is the final position as new project teams have aligned to the CTB. Testing/QA activities will be owned by<br>Project/Delivery Teams, QAT function will only be involved in support capacity and for governance/assurance<b>.</b></p>
<div id="legend">
<div style="left:1px;top:1px;width:12px;height:15px">R</div><div style="left:15px;top:1px;width:79px;height:15px">Responsible</div>
<div style="left:1px;top:18px;width:12px;height:15px">A</div><div style="left:15px;top:18px;width:79px;height:15px">Accountable</div>
<div style="left:1px;top:35px;width:12px;height:15px">C</div><div style="left:15px;top:35px;width:79px;height:15px">Consulted</div>
<div style="left:1px;top:52px;width:12px;height:17px">I</div><div style="left:15px;top:52px;width:79px;height:17px">Informed</div>
</div>
</body></html>
